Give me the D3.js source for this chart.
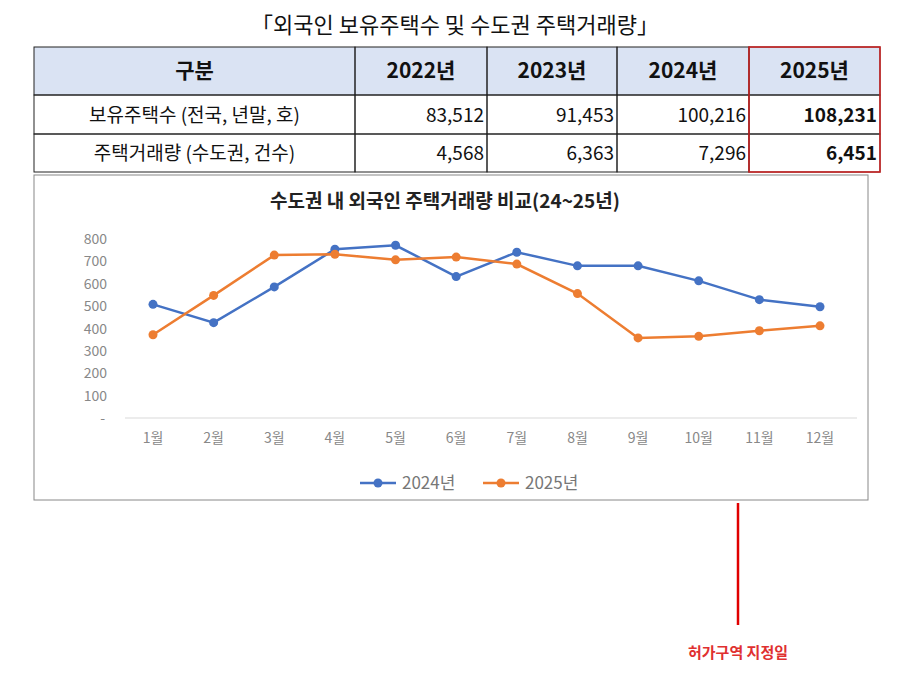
<!DOCTYPE html><html><head><meta charset="utf-8"><script src="https://cdn.jsdelivr.net/npm/d3@7"></script>
<style>body{margin:0;background:#fff;font-family:"Noto Sans CJK KR",sans-serif}</style></head><body><svg id="c" width="900" height="690"></svg>
<script>
const months=["1월","2월","3월","4월","5월","6월","7월","8월","9월","10월","11월","12월"];
const s2024=[508,426,586,754,772,632,741,680,680,613,529,497];
const s2025=[372,548,728,732,707,719,688,556,358,365,390,412];
const yTicks=[0,100,200,300,400,500,600,700,800];
const tableHeader=["구분","2022년","2023년","2024년","2025년"];
const tableRows=[["보유주택수 (전국, 년말, 호)","83,512","91,453","100,216","108,231"],["주택거래량 (수도권, 건수)","4,568","6,363","7,296","6,451"]];
const svg=d3.select("#c");
svg.append("text").attr("x",455).attr("y",33).attr("text-anchor","middle").attr("font-size",22).attr("fill","#111").text("「외국인 보유주택수 및 수도권 주택거래량」");
const cols=[34,355,487,617,749,880], rowsY=[47,95,134,172];
svg.append("rect").attr("x",34).attr("y",47).attr("width",846).attr("height",48).attr("fill","#dae3f3");
for(let r=0;r<3;r++){
  const y0=rowsY[r],y1=rowsY[r+1];
  const data=r==0?tableHeader:tableRows[r-1];
  data.forEach((t,i)=>{
    const x0=cols[i],x1=cols[i+1];
    svg.append("rect").attr("x",x0).attr("y",y0).attr("width",x1-x0).attr("height",y1-y0).attr("fill","none").attr("stroke","#222").attr("stroke-width",1);
    const head=r==0;
    const tx=head?(x0+x1)/2:(i==0?(x0+x1)/2:x1-3);
    svg.append("text").attr("x",tx).attr("y",(y0+y1)/2+7).attr("text-anchor",head||i==0?"middle":"end")
      .attr("font-size",head?21:19).attr("font-weight",head||i==4?"bold":"normal").attr("fill","#111").text(t);
  });
}
svg.append("rect").attr("x",749).attr("y",47).attr("width",131).attr("height",125).attr("fill","none").attr("stroke","#d02020").attr("stroke-width",1.5);
svg.append("rect").attr("x",34).attr("y",175).attr("width",834).attr("height",325).attr("fill","none").attr("stroke","#888");
svg.append("text").attr("x",445).attr("y",208).attr("text-anchor","middle").attr("font-size",19).attr("font-weight","bold").attr("fill","#222").text("수도권 내 외국인 주택거래량 비교(24~25년)");
const x=d3.scalePoint().domain(months).range([153,820]);
const y=d3.scaleLinear().domain([0,800]).range([418,239]);
svg.append("line").attr("x1",125).attr("x2",857).attr("y1",y(0)).attr("y2",y(0)).attr("stroke","#d9d9d9");
yTicks.forEach(v=>svg.append("text").attr("x",v==0?105:107).attr("y",y(v)+5).attr("text-anchor","end").attr("font-size",14).attr("fill","#888").text(v==0?"-":v));
months.forEach(m=>svg.append("text").attr("x",x(m)).attr("y",443).attr("text-anchor","middle").attr("font-size",14).attr("fill","#888").text(m));
const line=d3.line().x((d,i)=>x(months[i])).y(d=>y(d));
[[s2024,"#4472c4"],[s2025,"#ed7d31"]].forEach(([s,c])=>{
  svg.append("path").attr("d",line(s)).attr("fill","none").attr("stroke",c).attr("stroke-width",2.5);
  s.forEach((v,i)=>svg.append("circle").attr("cx",x(months[i])).attr("cy",y(v)).attr("r",4.5).attr("fill",c));
});
[["2024년","#4472c4",360],["2025년","#ed7d31",483]].forEach(([t,c,lx])=>{
  svg.append("line").attr("x1",lx).attr("x2",lx+36).attr("y1",483).attr("y2",483).attr("stroke",c).attr("stroke-width",2.5);
  svg.append("circle").attr("cx",lx+18).attr("cy",483).attr("r",4.5).attr("fill",c);
  svg.append("text").attr("x",lx+42).attr("y",489).attr("font-size",17).attr("fill","#777").text(t);
});
svg.append("line").attr("x1",738).attr("x2",738).attr("y1",503).attr("y2",625).attr("stroke","#e00000").attr("stroke-width",2.5);
svg.append("text").attr("x",738).attr("y",658).attr("text-anchor","middle").attr("font-size",15).attr("font-weight","bold").attr("fill","#e03030").text("허가구역 지정일");
</script></body></html>
